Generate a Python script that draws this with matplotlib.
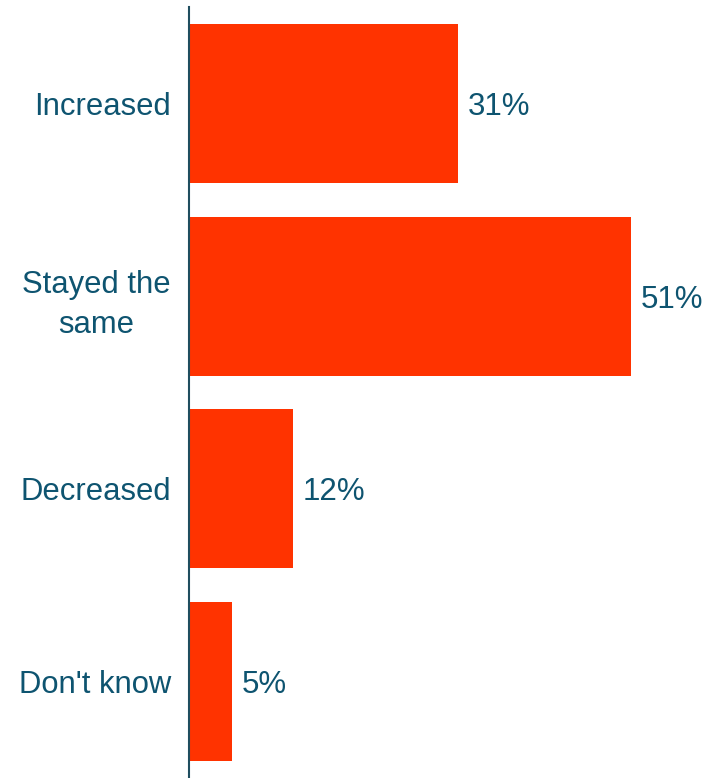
import matplotlib as mpl
import matplotlib.pyplot as plt

categories = ["Increased", "Stayed the\nsame", "Decreased", "Don't know"]
shares = [31, 51, 12, 5]

BAR_C = "#FF3300"
TEXT_C = "#0E5470"
AXIS_C = "#1F4E5F"

mpl.rcParams["font.family"] = ["Liberation Sans", "DejaVu Sans"]

fig = plt.figure(figsize=(7.11, 7.78), dpi=100)
ax = fig.add_axes([189 / 711, 0, 522 / 711, 771 / 778])

pos = list(range(len(categories)))
bars = ax.barh(pos, shares, height=0.825, color=BAR_C)
for bar, v in zip(bars, shares):
    ax.text(bar.get_width() + 1.1, bar.get_y() + bar.get_height() / 2, f"{v}%",
            ha="left", va="center_baseline", color=TEXT_C, fontsize=22.5)

ax.set_xlim(0, 60.2)
ax.set_ylim(len(categories) - 0.5, -0.5)
ax.set_yticks(pos)
ax.set_yticklabels(categories, fontsize=22.3, color=TEXT_C,
                   multialignment="center", linespacing=1.45)
ax.tick_params(axis="y", length=0, pad=13)
ax.set_xticks([])
for side in ("top", "right", "bottom"):
    ax.spines[side].set_visible(False)
ax.spines["left"].set_color(AXIS_C)
ax.spines["left"].set_linewidth(1.5)

fig.savefig("out.png", dpi=100)
